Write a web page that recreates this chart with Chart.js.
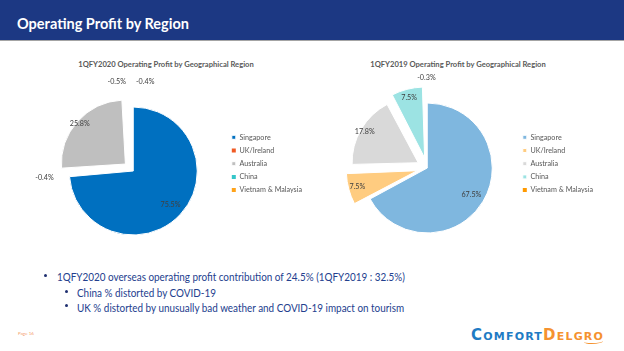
<!DOCTYPE html>
<html>
<head>
<meta charset="utf-8">
<script src="https://cdn.jsdelivr.net/npm/chart.js@4.4.1/dist/chart.umd.min.js"></script>
<style>
  html, body { margin: 0; padding: 0; background: #fff; }
  #slide { position: relative; width: 624px; height: 351px; overflow: hidden; font-family: Lato, "Open Sans", sans-serif; }
  .bar { position: absolute; left: 0; top: 0; width: 624px; height: 40px; background: #1c3883; border-bottom: 1px solid #a4a4a4; }
  .bar h1 { position: absolute; left: 17px; top: 15px; margin: 0; line-height: 18px; font-size: 14.5px; font-weight: 700; color: #fff; white-space: nowrap; }
  .ctitle { position: absolute; top: 59px; width: 260px; margin-left: -130px; text-align: center; line-height: 10px; font-size: 7.6px; font-weight: 700; color: #595959; white-space: nowrap; }
  canvas { position: absolute; }
  .line { position: absolute; white-space: nowrap; color: #23408e; font-size: 11px; line-height: 14px; transform: scaleX(0.9); transform-origin: 0 0; }
  .dot { position: absolute; width: 3px; height: 3px; border-radius: 50%; background: #1f2f70; }
  .page { position: absolute; left: 18px; top: 331px; font-size: 4.5px; color: #f4a06b; }
  .logo { position: absolute; left: 471px; top: 326px; white-space: nowrap; font-family: "DejaVu Sans", sans-serif; font-weight: 700; line-height: 18px; letter-spacing: 1.2px; }
  .logo .c { color: #1e7bc4; }
  .logo .d { color: #f5922f; }
  .logo .big { font-size: 15px; }
  .logo .sm { font-size: 11px; }
  .swoosh { position: absolute; left: 584px; top: 339px; width: 19px; height: 4px; border-bottom: 1.5px solid #f5922f; border-radius: 0 0 60% 40%; }
</style>
</head>
<body>
<div id="slide">
  <div class="bar"><h1>Operating Profit by Region</h1></div>

  <div class="ctitle" style="left:166px">1QFY2020 Operating Profit by Geographical Region</div>
  <div class="ctitle" style="left:458px">1QFY2019 Operating Profit by Geographical Region</div>

  <canvas id="pie2020" width="292" height="215" style="left:20px; top:55px"></canvas>
  <canvas id="pie2019" width="266" height="215" style="left:337px; top:55px"></canvas>

  <div class="dot" style="left:44px; top:274px"></div>
  <div class="line" style="left:57px; top:270px">1QFY2020 overseas operating profit contribution of 24.5% (1QFY2019 : 32.5%)</div>
  <div class="dot" style="left:65px; top:290px"></div>
  <div class="line" style="left:77px; top:286px">China % distorted by COVID-19</div>
  <div class="dot" style="left:65px; top:304px"></div>
  <div class="line" style="left:77px; top:301px">UK % distorted by unusually bad weather and COVID-19 impact on tourism</div>

  <div class="page">Page 16</div>
  <div class="logo"><span class="c"><span class="big">C</span><span class="sm">OMFORT</span></span><span class="d"><span class="big">D</span><span class="sm">ELGRO</span></span></div>
  <div class="swoosh"></div>
</div>

<script>
// regions in the order Excel drew them (clockwise from 12 o'clock)
const regions = ["Singapore", "UK/Ireland", "Australia", "China", "Vietnam & Malaysia"];

// operating profit share, % (negative = loss)
const share2020 = [75.5, -0.4, 25.8, -0.5, -0.4];
const share2019 = [67.5, 7.5, 17.8, 7.5, -0.3];

const colors2020 = ["#0070c0", "#f05a24", "#bfbfbf", "#35c6c9", "#ffa31a"];
const colors2019 = ["#7fb7df", "#ffcc80", "#d9d9d9", "#9ce3e3", "#ff9900"];

// percent labels, inside the big slices, just outside the thin ones
const sliceLabels = {
  id: "sliceLabels",
  afterDatasetsDraw(chart, args, opts) {
    const ctx = chart.ctx;
    const arcs = chart.getDatasetMeta(0).data;
    ctx.save();
    ctx.font = "7.2px Lato";
    ctx.fillStyle = "#404040";
    ctx.textAlign = "center";
    ctx.textBaseline = "middle";
    const boxes = [];
    arcs.forEach((arc, i) => {
      const mid = (arc.startAngle + arc.endAngle) / 2;
      const push = (arc.options.offset || 0) / 2;
      const thin = arc.endAngle - arc.startAngle < 0.15;
      const dist = push + (thin ? arc.outerRadius + 4 : arc.outerRadius * 0.79);
      const text = opts.shares[i].toFixed(1) + "%";
      boxes.push({
        text: text,
        w: ctx.measureText(text).width,
        thin: thin,
        x: arc.x + Math.cos(mid) * dist,
        y: arc.y + Math.sin(mid) * dist
      });
    });
    // spread neighbouring outside labels apart
    const outside = boxes.filter(b => b.thin);
    for (let i = 1; i < outside.length; i++) {
      const a = outside[i - 1], b = outside[i];
      if (Math.abs(a.y - b.y) < 9) {
        const need = (a.w + b.w) / 2 + 10 - Math.abs(b.x - a.x);
        if (need > 0) {
          const s = b.x >= a.x ? 1 : -1;
          a.x -= s * need / 2;
          b.x += s * need / 2;
        }
      }
    }
    boxes.forEach(b => ctx.fillText(b.text, b.x, b.y));
    ctx.restore();
  }
};

function makePie(id, shares, colors, offsets, radius, padding) {
  return new Chart(document.getElementById(id), {
    type: "pie",
    data: {
      labels: regions,
      datasets: [{
        data: shares.map(v => Math.abs(v)),
        backgroundColor: colors,
        borderColor: "#ffffff",
        // thin slivers would vanish under a white edge
        borderWidth: c => Math.abs(c.raw) < 1 ? 0 : 1,
        offset: offsets
      }]
    },
    options: {
      responsive: false,
      animation: false,
      radius: radius,
      layout: { padding: padding },
      plugins: {
        tooltip: { enabled: false },
        legend: {
          position: "right",
          align: "start",
          labels: {
            boxWidth: 4,
            boxHeight: 4,
            padding: 6,
            color: "#595959",
            font: { family: "Lato", size: 7.2 }
          }
        },
        sliceLabels: { shares: shares }
      }
    },
    plugins: [sliceLabels]
  });
}

makePie("pie2020", share2020, colors2020, [0, 42, 42, 42, 42], 64,
  { left: 20.7, top: 72.7, right: 0, bottom: 55.7 });
makePie("pie2019", share2019, colors2019, [0, 42, 42, 42, 42], 65,
  { left: 0.7, top: 72.7, right: 0, bottom: 61.7 });
</script>
</body>
</html>
